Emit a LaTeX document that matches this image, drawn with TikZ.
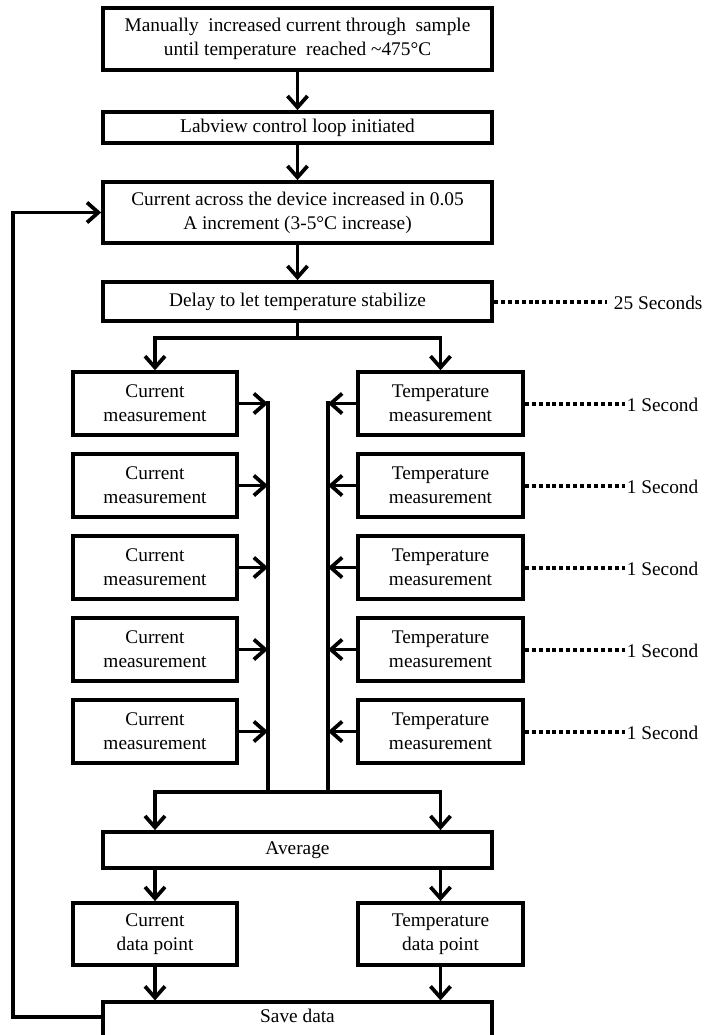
\documentclass[tikz,border=0pt]{standalone}
\usepackage{fontspec}
\setmainfont{Liberation Serif}
\usetikzlibrary{arrows.meta}

\tikzset{every picture/.style={line width=2.8pt}}
\tikzset{
  flowbox/.style={draw, rectangle, align=center, inner sep=1pt, font=\fontsize{14.5}{18}\selectfont},
  widebox/.style={flowbox, minimum width=291.75pt},
  halfbox/.style={flowbox, minimum width=123.5pt, minimum height=47pt},
  flow/.style={-{Straight Barb[length=8.5pt,width=15pt]}},
  timing/.style={line width=3pt, dash pattern=on 3pt off 2.2pt},
  timelabel/.style={anchor=west, inner sep=0pt, font=\fontsize{14.5}{18}\selectfont}
}

\begin{document}
\begin{tikzpicture}[x=0.75pt,y=0.75pt,yscale=-1,xscale=1]
\useasboundingbox (0,0) rectangle (710,1035);

%Shape: Rectangle -- main column
\node[widebox, minimum height=46.5pt] (manual) at (297.5,39) {Manually \ increased current through \ sample\\until temperature \ reached \textasciitilde475°C};
\node[widebox, minimum height=23.25pt] (labview) at (297.5,127.5) {Labview control loop initiated};
\node[widebox, minimum height=45.75pt] (incr) at (297.5,212.5) {Current across the device increased in 0.05\\A increment (3-5°C increase)};
\node[widebox, minimum height=29.25pt] (delay) at (297.5,301.5) {Delay to let temperature stabilize};

%Shape: Rectangle -- measurement rows
\foreach \i in {1,...,5} {
  \node[halfbox] (cur\i) at (155,{403.5+82*(\i-1)}) {Current\\measurement};
  \node[halfbox] (temp\i) at (440.5,{403.5+82*(\i-1)}) {Temperature\\measurement};
}

%Shape: Rectangle -- bottom part
\node[widebox, minimum height=27pt] (average) at (297.5,850) {Average};
\node[halfbox, minimum height=46.5pt] (curdata) at (155,934) {Current\\data point};
\node[halfbox, minimum height=46.5pt] (tempdata) at (440.5,934) {Temperature\\data point};
\node[widebox, minimum height=40pt] (save) at (297.5,1029) {};
\node[font=\fontsize{14.5}{18}\selectfont] (savetext) at (297.5,1016) {Save data};

%Coordinates for the branches
\coordinate (split) at (297.5,338);
\coordinate (lbus) at (268,401);
\coordinate (rbus) at (328,401);
\coordinate (merge) at (297.5,792);
\coordinate (loop) at (13,1017);

%Straight Lines
\draw[flow] (manual) -- (labview);
\draw[flow] (labview) -- (incr);
\draw[flow] (incr) -- (delay);
\draw (delay) -- (split);
\draw[flow] (split) -| (cur1.north);
\draw[flow] (split) -| (temp1.north);

\foreach \i in {1,...,5} {
  \draw[flow] (cur\i.east) -- (cur\i.east -| lbus);
  \draw[flow] (temp\i.west) -- (temp\i.west -| rbus);
}
\draw (lbus) -- (lbus |- merge);
\draw (rbus) -- (rbus |- merge);
\draw[flow] (merge) -| (cur1 |- average.north);
\draw[flow] (merge) -| (temp1 |- average.north);

\draw[flow] (average.south -| curdata) -- (curdata);
\draw[flow] (average.south -| tempdata) -- (tempdata);
\draw[flow] (curdata) -- (curdata |- save.north);
\draw[flow] (tempdata) -- (tempdata |- save.north);

%Feedback loop
\draw[flow] (save.west |- loop) -- (loop) |- (incr.west);

% Text Node -- timings
\node[timelabel] (wait) at (612,303) {25 Seconds};
\draw[timing] (delay.east) -- ([xshift=-4pt]delay.east -| wait.west);
\foreach \i in {1,...,5} {
  \node[timelabel] (sec\i) at (625,{405+82*(\i-1)}) {1 Second};
  \draw[timing] (temp\i.east) -- (temp\i.east -| sec\i.west);
}

\end{tikzpicture}
\end{document}
